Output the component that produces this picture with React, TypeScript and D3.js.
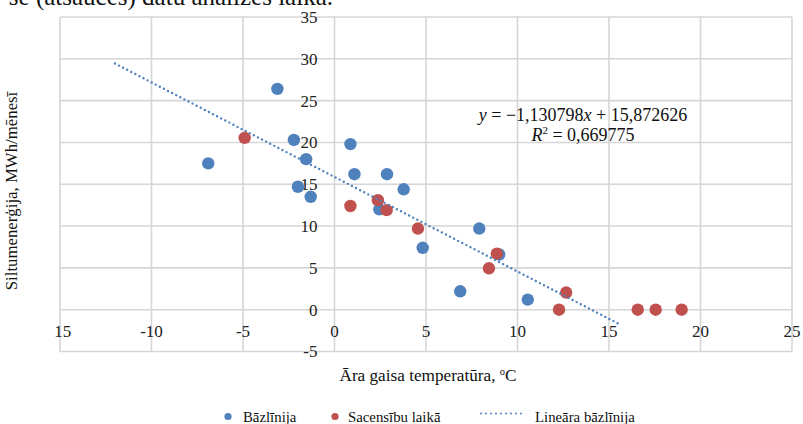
import React from "react";
import * as d3 from "d3";

const W = 803;
const H = 424;

// Bāzlīnija (baseline)
const baseX = [-6.9, -3.12, -2.22, -1.55, -2.0, -1.3, 0.87, 1.09, 2.87, 3.78, 2.45, 4.82, 7.91, 6.87, 9.0, 10.56];
const baseY = [17.5, 26.4, 20.3, 18.0, 14.7, 13.5, 19.8, 16.2, 16.2, 14.4, 12.0, 7.4, 9.7, 2.2, 6.6, 1.2];

// Sacensību laikā (during competition)
const compX = [-4.91, 0.87, 2.37, 2.85, 4.56, 8.87, 8.44, 12.66, 12.27, 16.57, 17.55, 18.97];
const compY = [20.55, 12.4, 13.1, 11.9, 9.7, 6.7, 4.95, 2.05, 0, 0, 0, 0];

// Linear trend
const slope = -1.130798;
const intercept = 15.872626;
const trendRange = [-12, 15.5];

const xTicks = [-15, -10, -5, 0, 5, 10, 15, 20, 25];
const yTicks = [-5, 0, 5, 10, 15, 20, 25, 30, 35];

const BLUE = "#4F81BD";
const RED = "#C0504D";
const GRID = "#d6d6d6";
const FONT = "'Liberation Serif', 'Times New Roman', serif";

export default function App() {
  const x = d3.scaleLinear().domain([-15, 25]).range([60, 792]);
  const y = d3.scaleLinear().domain([-5, 35]).range([351.5, 17]);

  const trendPts: [number, number][] = trendRange.map((t) => [x(t), y(slope * t + intercept)]);
  const line = d3.line();

  const base = baseX.map((v, i) => [v, baseY[i]]);
  const comp = compX.map((v, i) => [v, compY[i]]);

  return (
    <svg
      width={W}
      height={H}
      style={{ position: "absolute", left: 0, top: 0, background: "#fff" }}
      fontFamily={FONT}
    >
      <defs>
        <clipPath id="xlabclip">
          <rect x={54} y={0} width={W} height={H} />
        </clipPath>
      </defs>
      {/* cropped document text at top */}
      <text x={333} y={5} fontSize={25} textAnchor="end" fill="#111">
        se (atsauces) datu analīzes laikā.
      </text>

      {/* grid */}
      {xTicks.map((t) => (
        <line key={"gx" + t} x1={x(t)} x2={x(t)} y1={y(35)} y2={y(-5)} stroke={GRID} strokeWidth={1.6} />
      ))}
      {yTicks.map((t) => (
        <line key={"gy" + t} x1={x(-15)} x2={x(25)} y1={y(t)} y2={y(t)} stroke={GRID} strokeWidth={1.6} />
      ))}

      {/* y tick labels */}
      {yTicks.map((t) => (
        <text
          key={"ly" + t}
          x={x(0) - 17}
          y={y(t)}
          dy="0.35em"
          textAnchor="end"
          fontSize={17}
          fill="#222"
        >
          {t < 0 ? "-" + Math.abs(t) : String(t)}
        </text>
      ))}
      {/* x tick labels */}
      <g clipPath="url(#xlabclip)">
        {xTicks.map((t) => (
          <text key={"lx" + t} x={x(t)} y={337} textAnchor="middle" fontSize={17} fill="#222">
            {t < 0 ? "-" + Math.abs(t) : String(t)}
          </text>
        ))}
      </g>

      {/* points */}
      {base.map((p, i) => (
        <circle key={"b" + i} cx={x(p[0])} cy={y(p[1])} r={6.2} fill={BLUE} />
      ))}
      {comp.map((p, i) => (
        <circle key={"c" + i} cx={x(p[0])} cy={y(p[1])} r={6.2} fill={RED} />
      ))}

      {/* trend line */}
      <path
        d={line(trendPts) || ""}
        fill="none"
        stroke={BLUE}
        strokeWidth={2.4}
        strokeLinecap="round"
        strokeDasharray="0 4.6"
      />

      {/* equation */}
      <text x={583} y={120.5} textAnchor="middle" fontSize={18} fill="#111">
        <tspan fontStyle="italic">y</tspan>
        <tspan> = −1,130798</tspan>
        <tspan fontStyle="italic">x</tspan>
        <tspan> + 15,872626</tspan>
      </text>
      <text x={583} y={141} textAnchor="middle" fontSize={18} fill="#111">
        <tspan fontStyle="italic">R</tspan>
        <tspan fontSize={11} dy={-7}>2</tspan>
        <tspan dy={7}> = 0,669775</tspan>
      </text>

      {/* axis titles */}
      <text
        transform={`translate(17,191) rotate(-90)`}
        textAnchor="middle"
        fontSize={16.8}
        fill="#111"
      >
        Siltumenerģija, MWh/mēnesī
      </text>
      <text x={428} y={381} textAnchor="middle" fontSize={17.2} fill="#111">
        {"Āra gaisa temperatūra, "}
        <tspan fontSize={10.5} dy={-6}>o</tspan>
        <tspan dy={6}>C</tspan>
      </text>

      {/* legend */}
      <circle cx={228} cy={416.5} r={3.6} fill={BLUE} />
      <text x={243} y={422} fontSize={14.8} fill="#111">Bāzlīnija</text>
      <circle cx={335} cy={416.5} r={3.6} fill={RED} />
      <text x={348} y={422} fontSize={14.8} fill="#111">Sacensību laikā</text>
      <line
        x1={481}
        x2={525}
        y1={413.5}
        y2={413.5}
        stroke={BLUE}
        strokeWidth={2}
        strokeLinecap="round"
        strokeDasharray="0 5"
      />
      <text x={535} y={422} fontSize={14.8} fill="#111">Lineāra bāzlīnija</text>
    </svg>
  );
}
